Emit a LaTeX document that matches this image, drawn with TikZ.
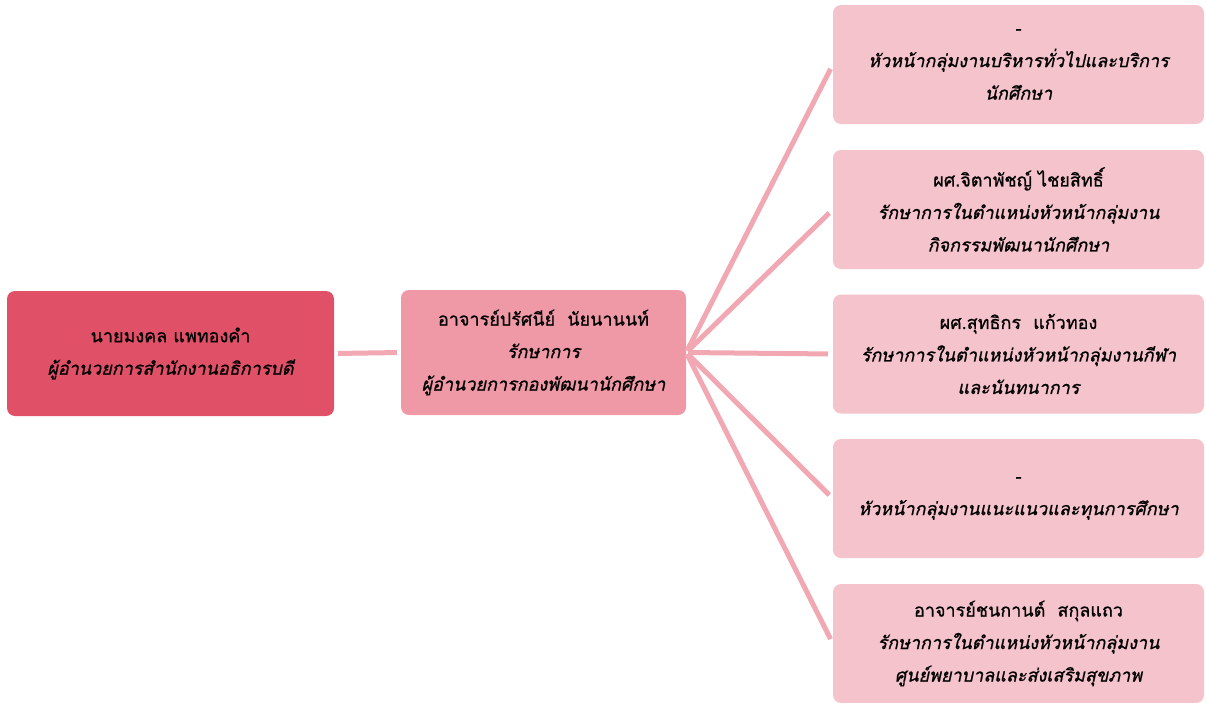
\documentclass[tikz,border=0pt]{standalone}
\usepackage{fontspec}
\newfontfamily\thaifont[Script=Thai, FakeBold=0.8]{Loma}
\definecolor{leftc}{RGB}{224,81,104}
\definecolor{midc}{RGB}{239,153,166}
\definecolor{rightc}{RGB}{245,195,203}
\definecolor{linec}{RGB}{241,168,179}
\tikzset{
  box/.style={rounded corners=8pt, align=center, inner sep=0pt,
    font=\thaifont\fontsize{18}{32.5}\selectfont, text=black},
  leftbox/.style={box, fill=leftc, minimum width=327pt, minimum height=125pt},
  midbox/.style={box, fill=midc, minimum width=285pt, minimum height=125pt},
  rightbox/.style={box, fill=rightc, minimum width=371pt, minimum height=119pt},
  link/.style={draw=linec, line width=5pt}
}
\begin{document}
\begin{tikzpicture}[x=1pt,y=-1pt]
\useasboundingbox (0,0) rectangle (1206,702);
\node[leftbox] (boss) at (170.5,353.5) {นายมงคล แพทองคำ\\ \itshape ผู้อำนวยการสำนักงานอธิการบดี};
\node[midbox] (dir) at (543.5,352.5) {อาจารย์ปรัศนีย์\ \ นัยนานนท์\\ \itshape รักษาการ\\ \itshape ผู้อำนวยการกองพัฒนานักศึกษา};
\node[rightbox] (r1) at (1018.5,64.5) {-\\ \itshape หัวหน้ากลุ่มงานบริหารทั่วไปและบริการ\\ \itshape นักศึกษา};
\node[rightbox] (r2) at (1018.5,209.5) {ผศ.จิตาพัชญ์ ไชยสิทธิ์\\ \itshape รักษาการในตำแหน่งหัวหน้ากลุ่มงาน\\ \itshape กิจกรรมพัฒนานักศึกษา};
\node[rightbox] (r3) at (1018.5,354) {ผศ.สุทธิกร\ \ แก้วทอง\\ \itshape รักษาการในตำแหน่งหัวหน้ากลุ่มงานกีฬา\\ \itshape และนันทนาการ};
\node[rightbox] (r4) at (1018.5,498.5) {-\\ \itshape หัวหน้ากลุ่มงานแนะแนวและทุนการศึกษา};
\node[rightbox] (r5) at (1018.5,643.5) {อาจารย์ชนกานต์\ \ สกุลแถว\\ \itshape รักษาการในตำแหน่งหัวหน้ากลุ่มงาน\\ \itshape ศูนย์พยาบาลและส่งเสริมสุขภาพ};
\draw[link, shorten <=4pt, shorten >=4pt] (boss.east) -- (dir.west);
\foreach \r in {r1,r2,r3,r4,r5}
  \draw[link, shorten <=2pt, shorten >=5pt] (dir.east) -- (\r.west);
\end{tikzpicture}
\end{document}
